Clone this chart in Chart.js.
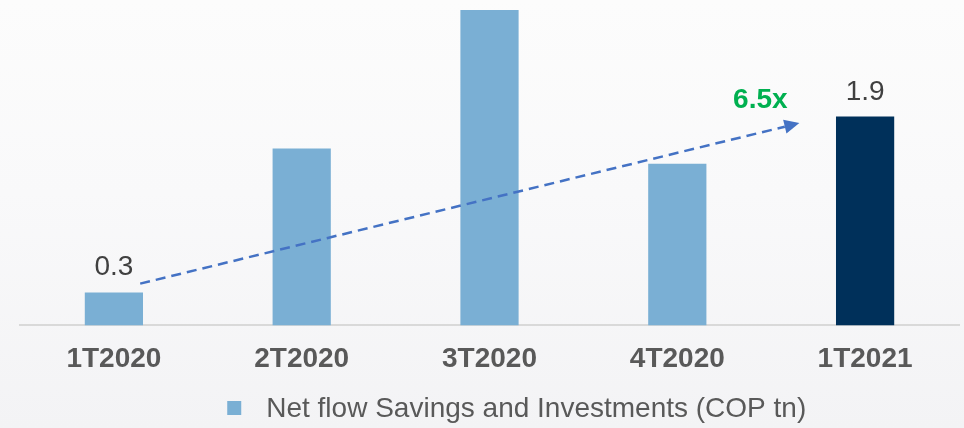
<!DOCTYPE html>
<html>
<head>
<meta charset="utf-8">
<script src="https://cdn.jsdelivr.net/npm/chart.js@4.4.1/dist/chart.umd.min.js"></script>
<style>
    html, body { margin: 0; padding: 0; }
    body {
        width: 964px;
        height: 428px;
        background: linear-gradient(to bottom, #fcfcfc 0%, #f9f9fa 45%, #f3f3f5 100%);
        overflow: hidden;
    }
    #wrap { position: relative; width: 964px; height: 428px; }
</style>
</head>
<body>
<div id="wrap"><canvas id="flowChart"></canvas></div>
<script>
const quarters = ["1T2020", "2T2020", "3T2020", "4T2020", "1T2021"];
const netFlow = [0.3, 1.61, 2.87, 1.47, 1.9];
const barColors = ["#7aafd4", "#7aafd4", "#7aafd4", "#7aafd4", "#00305a"];
const labelledBars = [0, 4];
const seriesName = "Net flow Savings and Investments (COP tn)";
const growthText = "6.5x";

const FONT = "'Liberation Sans', Arial, sans-serif";

// dashed growth arrow, given in category / value units
const arrowFrom = { x: 0.14, y: 0.38 };
const arrowTo = { x: 3.65, y: 1.84 };

const overlay = {
    id: "overlay",
    afterDatasetsDraw(chart) {
        const { ctx, scales: { x, y } } = chart;
        const meta = chart.getDatasetMeta(0);
        ctx.save();

        // value labels over the first and last bar
        ctx.font = `28px ${FONT}`;
        ctx.fillStyle = "#404040";
        ctx.textAlign = "center";
        ctx.textBaseline = "alphabetic";
        labelledBars.forEach(i => {
            const bar = meta.data[i];
            ctx.fillText(netFlow[i].toFixed(1), bar.x, bar.y - 17);
        });

        // growth arrow
        const x0 = x.getPixelForValue(arrowFrom.x), y0 = y.getPixelForValue(arrowFrom.y);
        const x1 = x.getPixelForValue(arrowTo.x), y1 = y.getPixelForValue(arrowTo.y);
        const ang = Math.atan2(y1 - y0, x1 - x0);
        const head = 15;
        ctx.strokeStyle = "#4472c4";
        ctx.fillStyle = "#4472c4";
        ctx.lineWidth = 2.5;
        ctx.setLineDash([10, 6]);
        ctx.beginPath();
        ctx.moveTo(x0, y0);
        ctx.lineTo(x1 - head * Math.cos(ang), y1 - head * Math.sin(ang));
        ctx.stroke();
        ctx.setLineDash([]);
        ctx.beginPath();
        ctx.moveTo(x1, y1);
        ctx.lineTo(x1 - head * Math.cos(ang) + 7 * Math.sin(ang), y1 - head * Math.sin(ang) - 7 * Math.cos(ang));
        ctx.lineTo(x1 - head * Math.cos(ang) - 7 * Math.sin(ang), y1 - head * Math.sin(ang) + 7 * Math.cos(ang));
        ctx.closePath();
        ctx.fill();

        ctx.font = `bold 28px ${FONT}`;
        ctx.fillStyle = "#00b050";
        ctx.fillText(growthText, x1 - 39, y1 - 15);

        // legend row under the axis
        const ds = chart.data.datasets[0];
        const lx = x.left + x.width * 0.2207;
        const ly = chart.height - 20;
        ctx.fillStyle = barColors[0];
        ctx.fillRect(lx, ly - 7, 14, 14);
        ctx.font = `28px ${FONT}`;
        ctx.fillStyle = "#595959";
        ctx.textAlign = "left";
        ctx.textBaseline = "middle";
        ctx.fillText(ds.label, lx + 39, ly + 1);

        ctx.restore();
    }
};

new Chart(document.getElementById("flowChart"), {
    type: "bar",
    data: {
        labels: quarters,
        datasets: [{
            label: seriesName,
            data: netFlow,
            backgroundColor: barColors,
            borderWidth: 0,
            categoryPercentage: 1,
            barPercentage: 0.31,
        }],
    },
    options: {
        responsive: true,
        maintainAspectRatio: false,
        animation: false,
        layout: { padding: { left: 20, right: 5, top: 0, bottom: 35 } },
        plugins: {
            legend: { display: false },
            tooltip: { enabled: false },
        },
        scales: {
            x: {
                grid: { display: false, drawTicks: false },
                border: { color: "#d9d9d9", width: 2 },
                ticks: {
                    color: "#595959",
                    font: { family: FONT, size: 28, weight: "bold" },
                    padding: 17,
                },
            },
            y: {
                display: false,
                min: 0,
                max: 2.96,
            },
        },
    },
    plugins: [overlay],
});
</script>
</body>
</html>
